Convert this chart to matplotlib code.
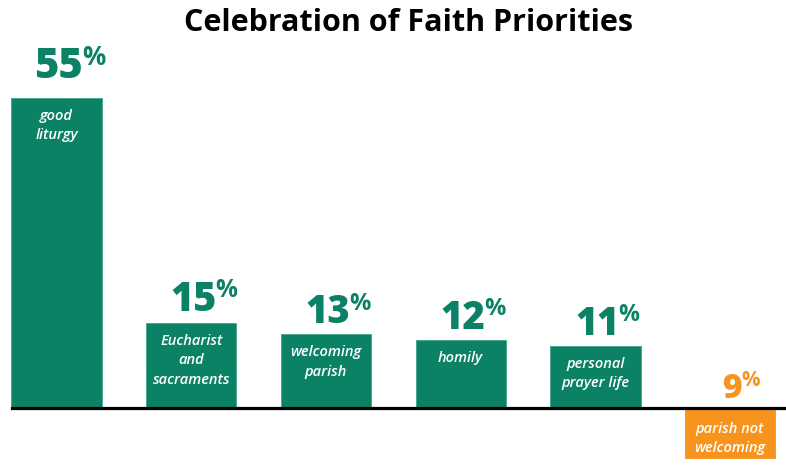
import matplotlib.pyplot as plt
import numpy as np

# chart values
categories = ["good\nliturgy", "Eucharist\nand\nsacraments", "welcoming\nparish",
              "homily", "personal\nprayer life", "parish not\nwelcoming"]
values = [55, 15, 13, 12, 11, -9]
labels = ["55", "15", "13", "12", "11", "9"]

green = "#0b8265"
orange = "#f7941d"
colors = [green, green, green, green, green, orange]
edges = ["#3fa585", "#3fa585", "#3fa585", "#3fa585", "#3fa585", orange]
numSizes = [30, 28.5, 27.5, 27.5, 27, 24]

plt.rcParams['font.family'] = ['Open Sans', 'DejaVu Sans']

fig = plt.figure(figsize=(7.86, 4.65), dpi=100)
ax = fig.add_axes([0, 0, 1, 1])
ax.axis("off")

x = np.arange(len(values))
ax.set_xlim(-0.42, 5.415)
ax.set_ylim(-10.2, 72.3)

bars = ax.bar(x, values, width=0.67, color=colors, edgecolor=edges, linewidth=0.6, zorder=2)

# baseline with a soft grey shadow
ax.axhline(-0.35, xmin=12 / 786, color="#9a9a9a", linewidth=1.5, zorder=3)
ax.axhline(0, xmin=12 / 786, color="black", linewidth=2.3, zorder=4)

for i, (v, lab, cat) in enumerate(zip(values, labels, categories)):
  col = colors[i]
  top = max(v, 0)
  gap = 10 if i == 0 else 2
  num = ax.annotate(lab, xy=(x[i], top), xytext=(2, gap), textcoords="offset pixels",
                    ha="center", va="bottom", fontsize=numSizes[i], fontweight="heavy",
                    color=col, zorder=5)
  # raised percent sign
  ax.annotate("%", xy=(0.98, 1.04), xycoords=num, ha="left", va="top",
              fontsize=numSizes[i] * 0.62, fontweight="bold", color=col, zorder=5)
  # label inside the bar
  start = v if v > 0 else -0.6
  ax.annotate(cat, xy=(x[i], start), xytext=(0, -11), textcoords="offset pixels",
              ha="center", va="top", fontsize=10.5, style="italic", fontweight="semibold",
              color="white", linespacing=1.5, zorder=5)

fig.text(0.52, 0.95, "Celebration of Faith Priorities", ha="center", va="center",
         fontsize=22, fontweight="bold", color="black")

fig.savefig("out.png", dpi=100)
